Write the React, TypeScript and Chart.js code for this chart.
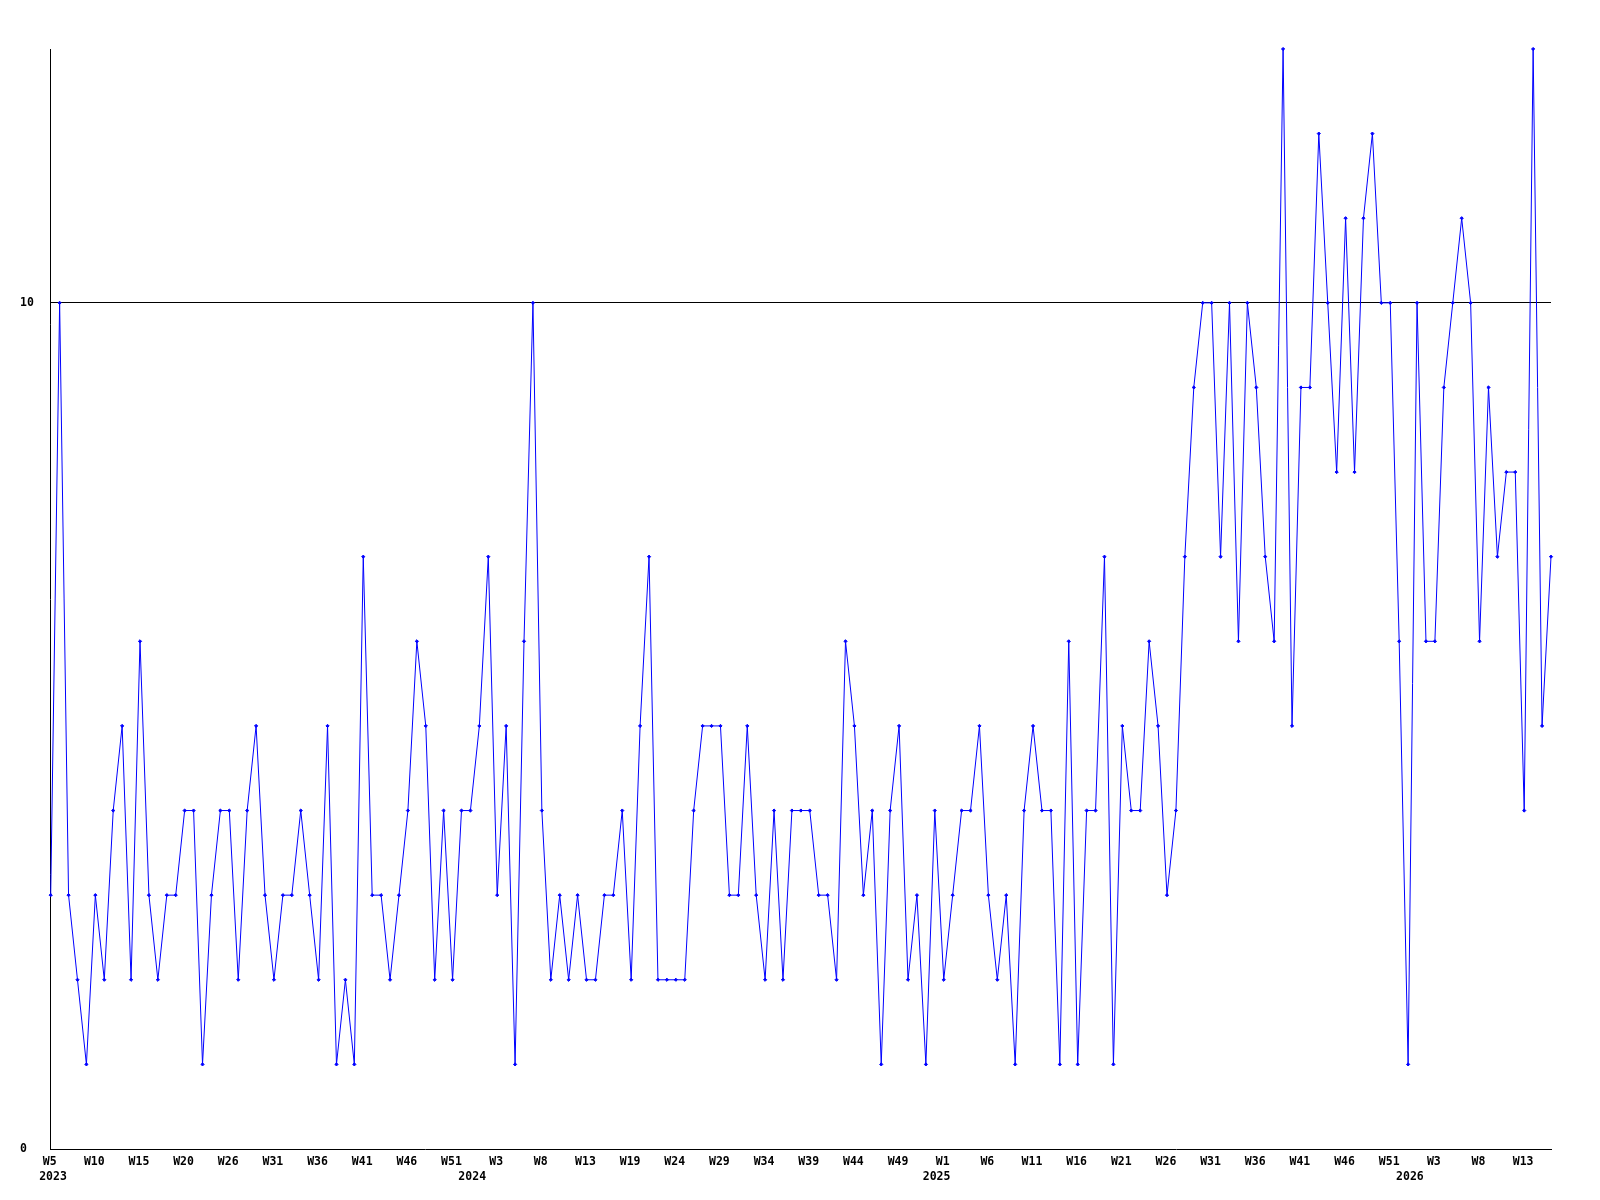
import React, { useEffect, useRef } from "react";
import { Chart, registerables } from "chart.js";

Chart.register(...registerables);

// ISO year / first week / last week covered by the series
const yearSpans: [number, number, number][] = [
  [2023, 5, 52],
  [2024, 1, 52],
  [2025, 1, 52],
  [2026, 1, 17],
];

const categories: string[] = yearSpans.flatMap(([y, a, b]) => {
  const out: string[] = [];
  for (let w = a; w <= b; w++) out.push(`${y}-W${w}`);
  return out;
});

const values2023: number[] = [
  3, 10, 3, 2, 1, 3, 2, 4, 5, 2, 6, 3, 2, 3, 3, 4, 4, 1, 3, 4, 4, 2, 4, 5, 3, 2, 3, 3, 4,
  3, 2, 5, 1, 2, 1, 7, 3, 3, 2, 3, 4, 6, 5, 2, 4, 2, 4, 4,
];
const values2024: number[] = [
  5, 7, 3, 5, 1, 6, 10, 4, 2,
  3, 2, 3, 2, 2, 3, 3, 4, 2, 5, 7, 2, 2, 2, 2, 4, 5, 5, 5, 3, 3, 5, 3, 2, 4, 2, 4, 4,
  4, 3, 3, 2, 6, 5, 3, 4, 1, 4, 5, 2, 3, 1,
];
const values2025: number[] = [
  4, 2, 3, 4, 4, 5, 3, 2, 3, 1, 4, 5, 4, 4,
  1, 6, 1, 4, 4, 7, 1, 5, 4, 4, 6, 5, 3, 4, 7, 9, 10, 10, 7, 10, 6, 10, 9, 7, 6, 13, 5, 9,
  9, 12, 10, 8, 11, 8, 11, 12, 10, 10,
];
const values2026: number[] = [6, 1, 10, 6, 6, 9, 10, 11, 10, 6, 9, 7, 8, 8, 4, 13, 5, 7];

const seriesValues: number[] = [...values2023, ...values2024, ...values2025, ...values2026];

const weekTickLabels: string[] = [
  "W5", "W10", "W15", "W20", "W26", "W31", "W36", "W41", "W46", "W51",
  "W3", "W8", "W13", "W19", "W24", "W29", "W34", "W39", "W44", "W49",
  "W1", "W6", "W11", "W16", "W21", "W26", "W31", "W36", "W41", "W46", "W51",
  "W3", "W8", "W13",
];
const weekTickStep = 5;
const weekTickShift = -0.12;

const yearTickLabels: string[] = ["2023", "2024", "2025", "2026"];
const yearTickPositions: number[] = [0.26, 47.2, 99.2, 152.2];

const yTickValues: number[] = [0, 10];
const yMax = 13;

const FONT = { family: "'DejaVu Sans Mono', monospace", size: 11.5, weight: "bold" as const, lineHeight: 15 / 11.5 };

export default function App() {
  const ref = useRef<HTMLCanvasElement | null>(null);

  useEffect(() => {
    if (!ref.current) return;
    const xTicks: { value: number; label: string | string[] }[] = [
      ...weekTickLabels.map((l, k) => ({ value: k * weekTickStep + weekTickShift, label: l })),
      ...yearTickLabels.map((l, k) => ({ value: yearTickPositions[k], label: ["", l] })),
    ];
    const chart = new Chart(ref.current, {
      type: "line",
      data: {
        labels: categories,
        datasets: [
          {
            label: "count",
            data: seriesValues.map((v, i) => ({ x: i, y: v })),
            borderColor: "#0000ff",
            backgroundColor: "#0000ff",
            borderWidth: 1,
            tension: 0,
            pointStyle: "rectRot",
            pointRadius: 1.6,
            pointBorderWidth: 1,
            pointBorderColor: "#0000ff",
            pointBackgroundColor: "#0000ff",
            clip: false as any,
            fill: false,
          },
        ],
      },
      options: {
        animation: false,
        responsive: false,
        maintainAspectRatio: false,
        layout: { padding: { left: 20, top: 49, right: 49, bottom: 0 } },
        plugins: { legend: { display: false }, tooltip: { enabled: false } },
        scales: {
          x: {
            type: "linear",
            min: 0,
            max: seriesValues.length - 1,
            grid: { display: true, color: "rgba(0,0,0,0)", drawTicks: false },
            border: { display: true, color: "#000", width: 1 },
            afterBuildTicks: (scale: any) => {
              scale.ticks = xTicks.map((t) => ({ value: t.value }));
            },
            afterFit: (scale: any) => {
              scale.height = 51;
            },
            ticks: {
              autoSkip: false,
              maxRotation: 0,
              minRotation: 0,
              padding: 5.5,
              color: "#000",
              font: FONT,
              callback: (_v: any, i: number) => xTicks[i].label,
            },
          },
          y: {
            type: "linear",
            min: 0,
            max: yMax,
            grid: {
              display: true,
              drawTicks: false,
              lineWidth: 1,
              color: (ctx: any) => (ctx.tick && ctx.tick.value === 10 ? "#000" : "rgba(0,0,0,0)"),
            },
            border: { display: true, color: "#000", width: 1 },
            afterBuildTicks: (scale: any) => {
              scale.ticks = yTickValues.map((v) => ({ value: v }));
            },
            afterFit: (scale: any) => {
              scale.width = 30.7;
            },
            ticks: {
              crossAlign: "far",
              padding: 4,
              color: "#000",
              font: FONT,
              callback: (v: any) => String(v),
            },
          },
        },
      },
    });
    return () => chart.destroy();
  }, []);

  return (
    <div style={{ position: "absolute", left: 0, top: 0, width: 1600, height: 1200, background: "#fff" }}>
      <canvas ref={ref} width={1600} height={1200} style={{ display: "block" }} />
    </div>
  );
}
